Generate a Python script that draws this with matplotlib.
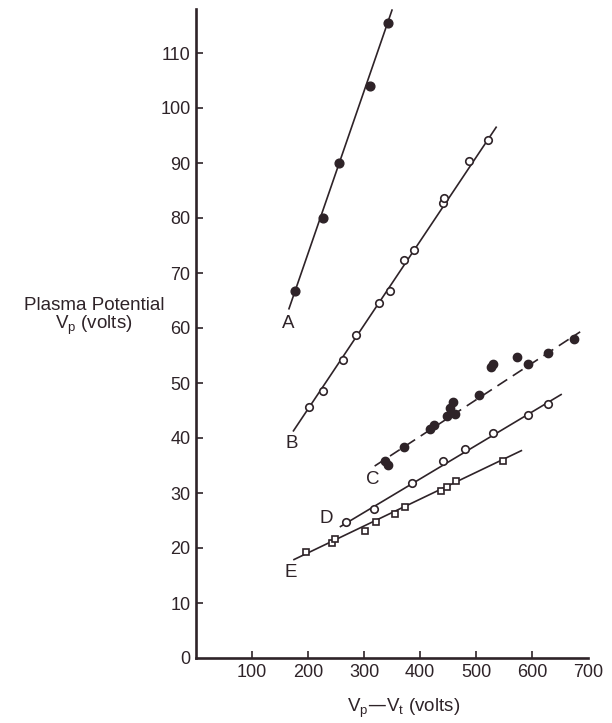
import matplotlib
matplotlib.use("Agg")
import matplotlib.pyplot as plt

plt.rcParams['font.family'] = ['Liberation Sans', 'DejaVu Sans']
plt.rcParams['mathtext.default'] = 'regular'

ink = '#2e2328'

# curve A (filled circles)
a_x = [177, 227, 256, 310, 342]
a_y = [66.8, 80.0, 90.0, 104.0, 115.4]
# curve B (open circles)
b_x = [202, 227, 262, 286, 327, 346, 371, 390, 441, 442, 488, 521]
b_y = [45.7, 48.6, 54.1, 58.8, 64.5, 66.7, 72.3, 74.1, 82.8, 83.7, 90.3, 94.1]
# curve C (filled circles, dashed line)
c_x = [338, 343, 372, 417, 425, 449, 453, 459, 463, 506, 527, 531, 573, 592, 628, 675]
c_y = [35.9, 35.1, 38.4, 41.7, 42.3, 44.0, 45.4, 46.5, 44.3, 47.9, 53.0, 53.5, 54.7, 53.4, 55.4, 58.0]
# curve D (open circles)
d_x = [268, 318, 386, 441, 481, 530, 592, 629]
d_y = [24.7, 27.1, 31.8, 35.9, 38.0, 40.9, 44.2, 46.2]
# curve E (open squares)
e_x = [197, 242, 249, 301, 321, 355, 374, 437, 449, 464, 548]
e_y = [19.3, 20.9, 21.6, 23.1, 24.7, 26.1, 27.4, 30.4, 31.1, 32.2, 35.8]

# drawn straight lines, end points
line_a = ([166, 350], [63.5, 117.8])
line_b = ([174, 536], [41.3, 96.5])
line_c = ([319, 686], [34.9, 59.3])
line_d = ([258, 652], [23.9, 47.9])
line_e = ([175, 581], [17.9, 37.7])

curve_names = ['A', 'B', 'C', 'D', 'E']
name_pos = [(164, 60.8), (171, 39.0), (316, 32.5), (233, 25.4), (169, 15.6)]

x_ticks = [100, 200, 300, 400, 500, 600, 700]
y_ticks = list(range(0, 111, 10))

fig = plt.figure(figsize=(6.12, 7.23), dpi=100)
ax = fig.add_axes([196 / 612, 65 / 723, 392 / 612, 649 / 723])

for lx, ly in [line_a, line_b, line_d, line_e]:
    ax.plot(lx, ly, color=ink, lw=1.2, zorder=2)
ax.plot(line_c[0], line_c[1], color=ink, lw=1.2, dashes=(7, 4), zorder=2)

ax.plot(a_x, a_y, 'o', ms=6.3, color=ink, zorder=3)
ax.plot(c_x, c_y, 'o', ms=6.0, color=ink, zorder=3)
ax.plot(b_x, b_y, 'o', ms=5.4, mfc='white', mec=ink, mew=1.2, zorder=3)
ax.plot(d_x, d_y, 'o', ms=5.4, mfc='white', mec=ink, mew=1.2, zorder=3)
ax.plot(e_x, e_y, 's', ms=4.6, mfc='white', mec=ink, mew=1.2, zorder=3)

for name, (tx, ty) in zip(curve_names, name_pos):
    ax.text(tx, ty, name, fontsize=13.5, color=ink, ha='center', va='center')

ax.set_xlim(0, 700)
ax.set_ylim(0, 118)
ax.set_xticks(x_ticks)
ax.set_yticks(y_ticks)
ax.tick_params(direction='in', length=5, width=1.2, color=ink,
               labelsize=13, labelcolor=ink, pad=4)
ax.xaxis.get_major_ticks()[-1].tick1line.set_visible(False)
ax.yaxis.get_major_ticks()[0].tick1line.set_visible(False)

for side in ['top', 'right']:
    ax.spines[side].set_visible(False)
for side in ['left', 'bottom']:
    ax.spines[side].set_linewidth(1.9)
    ax.spines[side].set_color(ink)

fig.text(94 / 612, 1 - 310 / 723, 'Plasma Potential', fontsize=13.5,
         color=ink, ha='center', va='baseline')
fig.text(94 / 612, 1 - 329 / 723, 'V$_p$ (volts)', fontsize=13.5,
         color=ink, ha='center', va='baseline')
fig.text(404 / 612, 1 - 712 / 723, 'V$_p$\u2014V$_t$ (volts)', fontsize=13.5,
         color=ink, ha='center', va='baseline')

fig.savefig('out.png', dpi=100)
